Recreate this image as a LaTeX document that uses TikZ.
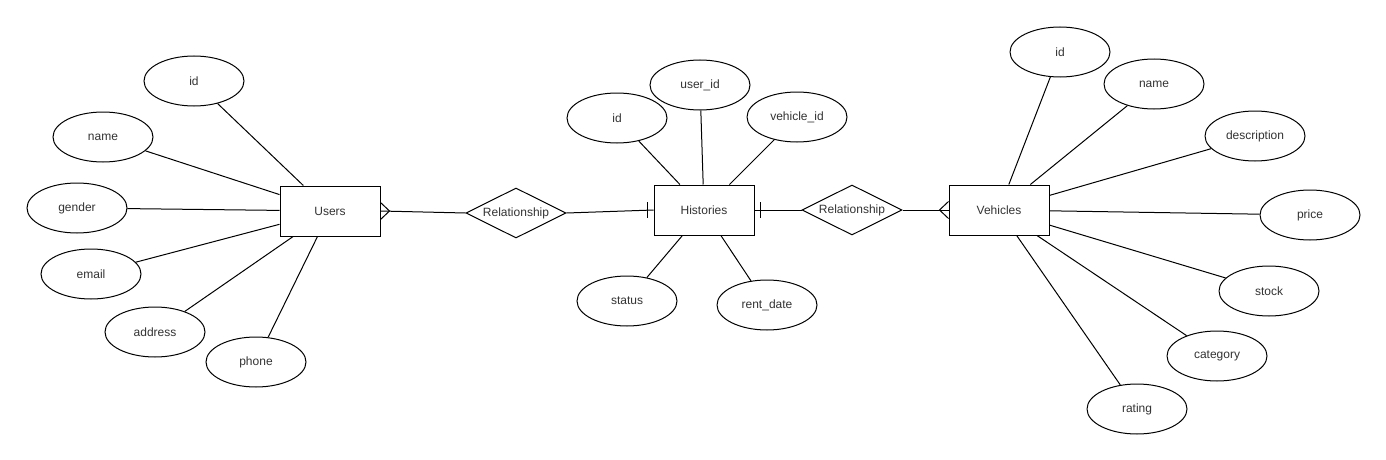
\documentclass[tikz,border=0pt]{standalone}
\usepackage{fontspec}
\setmainfont{Liberation Sans}
\usetikzlibrary{shapes.geometric}
\definecolor{txt}{HTML}{333333}
\tikzset{
  every node/.style={font=\fontsize{12}{14}\selectfont, text=txt},
  attr/.style={draw=black, ellipse, minimum width=100pt, minimum height=50pt, inner sep=0pt, line width=1pt},
  entity/.style={draw=black, rectangle, minimum width=100pt, minimum height=50pt, inner sep=0pt, line width=1pt},
  rel/.style={draw=black, diamond, aspect=2, minimum width=100pt, minimum height=50pt, inner sep=0pt, line width=1pt},
  conn/.style={draw=black, line width=1pt},
}
\begin{document}
\begin{tikzpicture}[x=1pt, y=-1pt]
\useasboundingbox[fill=white] (0,0) rectangle (1386,460);
% entities
\node[entity] (users) at (330,211) {Users};
\node[entity] (hist) at (704,210) {Histories};
\node[entity] (veh) at (999,210) {Vehicles};
% relationships
\node[rel] (rel1) at (516,213) {Relationship};
\node[rel] (rel2) at (852,210) {Relationship};
% Users attributes
\node[attr] (uid) at (194,81) {id};
\node[attr] (uname) at (103,137) {name};
\node[attr] (ugender) at (77,208) {gender};
\node[attr] (uemail) at (91,274) {email};
\node[attr] (uaddress) at (155,332) {address};
\node[attr] (uphone) at (256,362) {phone};
% Histories attributes
\node[attr] (hid) at (617,118) {id};
\node[attr] (huser) at (700,85) {user\_id};
\node[attr] (hveh) at (797,117) {vehicle\_id};
\node[attr] (hstatus) at (627,301) {status};
\node[attr] (hrent) at (767,305) {rent\_date};
% Vehicles attributes
\node[attr] (vid) at (1060,52) {id};
\node[attr] (vname) at (1154,84) {name};
\node[attr] (vdesc) at (1255,136) {description};
\node[attr] (vprice) at (1310,215) {price};
\node[attr] (vstock) at (1269,291) {stock};
\node[attr] (vcat) at (1217,356) {category};
\node[attr] (vrating) at (1137,409) {rating};
% attribute connectors
\foreach \a in {uid,uname,ugender,uemail,uaddress,uphone}
  \draw[conn] (\a) -- (users);
\foreach \a in {hid,huser,hveh,hstatus,hrent}
  \draw[conn] (\a) -- (hist);
\foreach \a in {vid,vname,vdesc,vprice,vstock,vcat,vrating}
  \draw[conn] (\a) -- (veh);
% relationship connectors
\draw[conn] (users.east) -- (rel1.west);
\draw[conn] (rel1.east) -- (hist.west);
\draw[conn] (hist.east) -- (rel2.west);
\draw[conn] (rel2.east) -- (veh.west);
% crow's foot (many) at Users
\draw[conn] ([yshift=8.5pt]users.east) -- ([xshift=9pt]users.east) -- ([yshift=-8.5pt]users.east);
% one bars at Histories
\draw[conn] ([xshift=-6pt,yshift=8pt]hist.west) -- ([xshift=-6pt,yshift=-8pt]hist.west);
\draw[conn] ([xshift=6pt,yshift=8pt]hist.east) -- ([xshift=6pt,yshift=-8pt]hist.east);
% crow's foot (many) at Vehicles
\draw[conn] ([yshift=8.5pt]veh.west) -- ([xshift=-9pt]veh.west) -- ([yshift=-8.5pt]veh.west);
\end{tikzpicture}
\end{document}
